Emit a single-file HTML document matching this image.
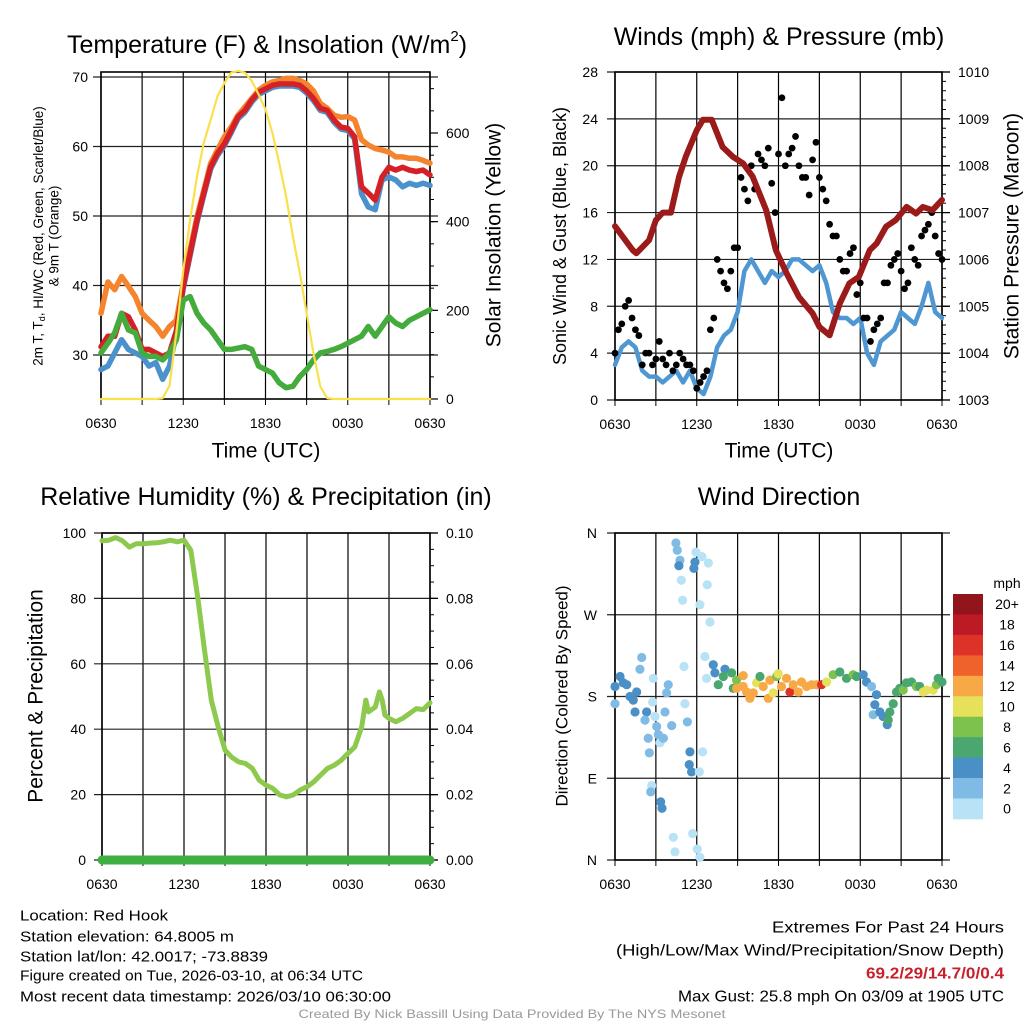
<!DOCTYPE html>
<html>
<head>
<meta charset="utf-8">
<style>
html,body{margin:0;padding:0;background:#fff;}
svg{display:block;font-family:"Liberation Sans",Arial,sans-serif;}
</style>
</head>
<body>
<svg id="root" width="1024" height="1024" viewBox="0 0 1024 1024" xmlns="http://www.w3.org/2000/svg"></svg>
<script>
// ---------------- DATA ----------------
const hourTicks = ["0630","1230","1830","0030","0630"];
const tempRed = [31.2,32.7,32.7,36,35.5,33.6,30.8,30.8,30.3,29.8,30.3,33.5,39.9,44.6,49.4,53.3,57.1,59,60.4,62.3,64.3,65.2,66.7,67.8,68.3,68.8,69,69,69,68.8,68,66.9,65.5,65.2,63.8,62.8,62.6,61.4,54.2,53.3,52.3,55.6,57,56.6,57,56.6,56.4,56.6,55.9];
const tempOrange = [36,40.5,39.4,41.3,39.9,38.4,36,35,34.1,32.7,34.1,35,40.3,45.1,49.9,53.7,57.6,59.5,61.4,62.8,64.5,65.7,66.9,68.1,68.8,69.3,69.5,69.8,69.8,69.5,69,68,66.2,65.5,64.5,64.2,64.3,63.8,61,60.2,59.7,59.5,59.2,58.5,58.5,58.3,58.3,58,57.6];
const tempBlue = [27.9,28.4,30.3,32.2,30.8,30.3,29.8,28.4,28.9,26.5,28.4,33.2,39.6,44.3,49.1,53,56.8,58.7,60.1,62,64,64.9,66.4,67.5,68,68.5,68.7,68.7,68.7,68.5,67.7,66.6,65.2,64.9,63.5,62.5,62.3,61.1,53.2,51.3,50.9,55.2,55.6,55.2,54.2,54.7,54.4,54.7,54.4];
const dewGreen = [30.3,31.7,33.2,36,33.6,33.2,30.3,29.8,29.8,29.3,30.3,32.2,37.9,38.4,36,34.6,33.6,32.2,30.8,30.8,31,31.2,30.8,28.4,27.9,27.4,26,25.3,25.5,26.9,27.9,29.3,30.3,30.5,30.8,31.2,31.7,32.2,32.7,34.1,32.7,34.1,35.5,34.6,34.1,35,35.5,36,36.5];
const solar = [0,0,0,0,0,0,0,0,0,2,30,150,291,404,502,578,630,683,713,736,740,736,717,687,653,600,532,457,367,284,194,103,28,2,0,0,0,0,0,0,0,0,0,0,0,0,0,0,0];
const tempTicks = [30,40,50,60,70];
const solarTicks = [0,200,400,600];
const windSpeed = [3,4.5,5,4.5,2.5,2,2,1.5,2,2.5,1.5,2.5,1,0.5,2,4.5,5.5,6,7.5,11,12,11,10,11,10.5,11,12,12,11.5,11,11.5,10,7.5,7,7,6.5,7,4,3,5,5.5,6,7.5,7,6.5,8,10,7.5,7];
const gustA = [4,6.5,8.5,6,3,4,3.5,3.5,4,3,3.5,3,1,2,6,12,10,11,13,18,20,21,20,18.5,21,20,21.5,20,19,20.5,19,17,14,12,11,13,10,7,6,7,10,12,11,10,12,14,15,14,12];
const gustB = [6,8,7,5.5,4,3,5,3,2.5,4,3,2.5,1.5,2.5,7,11,9.5,13,19,17,18,20.5,21.5,16,25.8,21,22.5,19,17.5,22,18,15,14,11,12.5,9,7,5,6.5,10,11.5,12.5,9.5,13,11.5,14.5,16,12.5];
const pressTimes = [0,1.3,1.56,2.5,3,3.5,4.1,4.7,5.2,6,6.45,7.1,7.9,8.65,9.4,10.1,11.1,11.8,12.6,13.5,14.5,15,15.75,16.5,17.2,17.9,18.7,19.2,19.9,20.6,21.4,22.1,22.6,23.3,24];
const pressVals = [1006.71,1006.2,1006.13,1006.41,1006.84,1007.0,1007.0,1007.76,1008.2,1008.76,1008.98,1008.98,1008.4,1008.19,1008.05,1007.77,1007.05,1006.2,1005.7,1005.2,1004.85,1004.56,1004.38,1005.06,1005.49,1005.63,1006.2,1006.34,1006.7,1006.84,1007.12,1006.98,1007.12,1007.05,1007.27];
const windTicks = [0,4,8,12,16,20,24,28];
const pressTicks = [1003,1004,1005,1006,1007,1008,1009,1010];
const rhTimes = [0,0.5,1,1.5,2,2.5,3,3.5,4,4.5,5,5.5,6,6.5,7,7.5,8,8.5,9,9.5,10,10.5,11,11.5,12,12.5,13,13.5,14,14.5,15,15.5,16,16.5,17,17.5,18,18.5,19,19.3,19.5,20,20.3,20.5,20.7,21,21.5,22,22.5,23,23.5,24];
const rhVals = [97.6,97.8,98.6,97.6,95.7,96.7,96.7,96.9,97,97.3,97.8,97.3,97.8,94.7,80.4,64.2,48.9,40.7,33.6,31.4,30,29.5,28,24.4,22.9,21.9,19.9,19.3,19.9,21.4,22.4,23.9,26,28,29,30.5,32.6,34.6,40.7,48.9,45.3,46.8,51.4,48.9,44.3,43.3,42.3,43.3,44.8,46.3,46,48.1];
const precipTimes = [0,24];
const precipVals = [0,0];
const rhTicks = [0,20,40,60,80,100];
const precipTicks = ["0.00","0.02","0.04","0.06","0.08","0.10"];
const dirTimes = [0,0.37,0.61,0.86,1.1,1.34,1.59,1.47,1.96,1.83,2.32,2.2,2.44,2.52,2.81,2.76,2.93,3.06,3.18,3.3,3.55,3.67,3.79,3.91,4.16,4.47,4.57,4.77,4.69,4.87,4.96,5.06,5.13,5.31,5.5,5.45,5.62,2.69,2.62,3.35,3.45,4.28,4.4,5.7,6.04,6.23,5.87,5.79,5.94,6.38,6.85,6.77,6.23,6.97,6.6,6.72,6.19,6.43,0,
 7.21,7.33,8.07,7.58,7.95,8.56,8.68,8.92,9.41,8.92,9.41,9.66,9.9,10.15,10.39,10.64,10.88,11.25,11.37,11.61,11.86,11.98,12.22,12.59,12.84,13.08,13.45,13.69,14.06,14.43,14.79,15.16,15.53,16.01,16.5,16.99,17.48,17.73,18.22,18.46,18.83,19.19,19.07,18.95,19.44,19.68,19.98,20.05,20.17,20.42,20.66,20.9,21.15,21.39,21.76,22.13,22.37,22.62,22.86,23.35,23.59,23.72,24];
const dirDegrees = [191,202,195,193,180,176,185,163,223,210,163,154,134,118,200,174,158,147,138,129,134,163,184,193,148,349,341,330,324,308,286,213,172,152,119,105,97,82,75,64,57,25,9,29,12,3,328,321,339,334,327,303,281,262,224,200,97,119,172,
 215,206,210,193,202,206,189,198,203,189,191,185,178,184,195,202,191,178,198,184,202,205,191,200,185,193,185,196,191,193,193,193,196,204,207,200,204,202,204,196,191,182,171,160,163,158,149,154,163,172,185,189,187,195,196,191,191,185,187,187,193,200,196];
const dirSpeeds = [4,4,4,4,4,4,4,4,2,2,4,2,2,2,1,1,1,2,2,0,2,2,2,2,2,2,2,2,4,0,0,0,0,2,4,4,4,0,2,4,4,0,0,0,0,0,4,4,0,0,0,0,0,0,0,0,0,0,2,
 4,4,4,6,6,6,6,8,12,12,12,12,12,12,10,6,12,12,12,10,8,10,12,12,16,12,12,12,12,12,12,16,10,8,6,6,8,6,4,4,2,4,4,2,4,4,4,6,6,6,6,6,8,6,6,8,6,10,10,10,8,6,6];
const dirLabels = ["N","E","S","W","N"];
const speedLabels = ["20+","18","16","14","12","10","8","6","4","2","0"];
const speedColors = ["#92151b","#bc1b26","#dc3227","#f0622b","#f6a945","#e7e05a","#7dc24c","#49a76f","#4a8fc6","#80bbe5","#b8e3f7"];

// ---------------- HELPERS ----------------
const NS = "http://www.w3.org/2000/svg";
const root = document.getElementById("root");
function mk(tag, parent){ const e = document.createElementNS(NS, tag); parent.appendChild(e); return e; }
function lin(d0,d1,r0,r1){ return v => r0 + (v-d0)*(r1-r0)/(d1-d0); }
function txt(parent, x, y, s, size, anchor){
  const t = mk("text", parent);
  t.setAttribute("x", x); t.setAttribute("y", y);
  t.setAttribute("font-size", size); t.setAttribute("text-anchor", anchor||"middle");
  t.setAttribute("dominant-baseline","central");
  t.textContent = s; return t;
}
function line(parent,x1,y1,x2,y2,stroke,w){
  const l = mk("line", parent);
  l.setAttribute("x1",x1); l.setAttribute("y1",y1); l.setAttribute("x2",x2); l.setAttribute("y2",y2);
  l.setAttribute("stroke",stroke); l.setAttribute("stroke-width",w); return l;
}
function pathFrom(xs, ys, sx, sy){
  let d = "";
  for (let i=0;i<xs.length;i++){ d += (i?"L":"M") + sx(xs[i]).toFixed(1) + "," + sy(ys[i]).toFixed(1); }
  return d;
}
const halfHours = tempRed.map((_,i)=>i*0.5);
const quarterHours = gustB.map((_,i)=>i*0.5+0.25);

function frame(g, x0,x1,y0,y1, sx, yTicks, syL, leftLabels, labelX){
  for (let h=0; h<=24; h+=3){
    const gl = line(g, sx(h), y0, sx(h), y1, "#000", 1.2);
    
    
    const tk = line(g, sx(h), y1, sx(h), y1+6, "#000", 1);
    
    
  }
  yTicks.forEach((v,i)=>{
    const gl = line(g, x0-8, syL(v), x1+8, syL(v), "#222", 1.2);
    
    
    const lb = txt(g, labelX, syL(v), leftLabels[i], 14, "end");
    
    
  });
  hourTicks.forEach((s,i)=>{
    const lb = txt(g, sx(i*6), y1+24, s, 14, "middle");
    
    
  });
  const bd = mk("rect", g);
  bd.setAttribute("x",x0); bd.setAttribute("y",y0); bd.setAttribute("width",x1-x0); bd.setAttribute("height",y1-y0);
  bd.setAttribute("fill","none"); bd.setAttribute("stroke","#000"); bd.setAttribute("stroke-width",1.6);
  
  
}
function rightAxis(g, x1, ticks, sy, labels, minorStep, minorMin, minorMax){
  for (let v=minorMin; v<=minorMax+1e-9; v+=minorStep){
    const m = line(g, x1, sy(v), x1+4, sy(v), "#000", 1);
    
    
  }
  ticks.forEach((v,i)=>{
    const t = line(g, x1, sy(v), x1+8, sy(v), "#000", 1.2);
    
    
    const lb = txt(g, x1+16, sy(v), labels[i], 14, "start");
    
    
  });
}
function series(g, xs, ys, sx, sy, color, w, name){
  const p = mk("path", g);
  p.setAttribute("d", pathFrom(xs, ys, sx, sy));
  p.setAttribute("fill","none"); p.setAttribute("stroke",color); p.setAttribute("stroke-width",w);
  p.setAttribute("stroke-linejoin","round"); p.setAttribute("stroke-linecap","round");
  
  
  return p;
}
function rotText(g, x, y, s, size){
  const t = txt(g, 0, 0, s, size, "middle");
  t.setAttribute("transform", "translate("+x+","+y+") rotate(-90)");
  return t;
}

// ---------------- PANEL 1 ----------------
{
  const g = mk("g", root);
  
  
  const x0=101,x1=430,y0=72,y1=399;
  const sx = lin(0,24,x0,x1);
  const sy = lin(30,70,355,77);
  const sr = lin(0,600,399,133);
  frame(g,x0,x1,y0,y1,sx,tempTicks,sy,tempTicks.map(String),88);
  rightAxis(g,x1,solarTicks,sr,solarTicks.map(String),50,0,700);
  series(g, halfHours, tempOrange, sx, sy, "#f4842e", 5.5, "series-9m-temperature");
  series(g, halfHours, tempBlue, sx, sy, "#4b92cd", 5.5, "series-heat-index-wind-chill");
  series(g, halfHours, tempRed, sx, sy, "#d52126", 5.5, "series-2m-temperature");
  series(g, halfHours, dewGreen, sx, sy, "#44ab3d", 5.5, "series-dewpoint");
  series(g, halfHours, solar, sx, sr, "#fbe04a", 2.2, "series-solar-insolation");
  const t = txt(g, 267, 45, "", 25, "middle");
  t.innerHTML = 'Temperature (F) &amp; Insolation (W/m<tspan dy="-9" font-size="15">2</tspan><tspan dy="9">)</tspan>';
  
  
  const a = rotText(g, 38, 236, "", 13.5);
  a.innerHTML = '2m T, T<tspan dy="4" font-size="9">d</tspan><tspan dy="-4">, HI/WC (Red, Green, Scarlet/Blue)</tspan>';
  
  
  const a2 = rotText(g, 54, 236, "& 9m T (Orange)", 13.5);
  
  
  const r = rotText(g, 494, 235, "Solar Insolation (Yellow)", 21);
  
  
  const xt = txt(g, 266, 451, "Time (UTC)", 21, "middle");
  
  
}

// ---------------- PANEL 2 ----------------
{
  const g = mk("g", root);
  
  
  const x0=615,x1=942,y0=72,y1=400;
  const sx = lin(0,24,x0,x1);
  const sy = lin(0,28,y1,y0);
  const sp = lin(1003,1010,y1,y0);
  frame(g,x0,x1,y0,y1,sx,windTicks,sy,windTicks.map(String),598);
  rightAxis(g,x1,pressTicks,sp,pressTicks.map(String),0.2,1003,1010);
  series(g, halfHours, windSpeed, sx, sy, "#4f97d3", 4.5, "series-sonic-wind");
  const dots = mk("g", g);
  
  
  [[halfHours,gustA],[quarterHours,gustB]].forEach(([ts,vs])=>{
    vs.forEach((v,i)=>{
      const c = mk("circle", dots);
      c.setAttribute("cx", sx(ts[i])); c.setAttribute("cy", sy(v)); c.setAttribute("r", 3.4);
      c.setAttribute("fill","#000");
      
      
    });
  });
  series(g, pressTimes, pressVals, sx, sp, "#9b1a1a", 6, "series-station-pressure");
  const t = txt(g, 779, 37, "Winds (mph) & Pressure (mb)", 25, "middle");
  
  
  const a = rotText(g, 560, 236, "Sonic Wind & Gust (Blue, Black)", 18);
  
  
  const r = rotText(g, 1012, 236, "Station Pressure (Maroon)", 21);
  
  
  const xt = txt(g, 779, 451, "Time (UTC)", 21, "middle");
  
  
}

// ---------------- PANEL 3 ----------------
{
  const g = mk("g", root);
  
  
  const x0=102,x1=430,y0=533,y1=860;
  const sx = lin(0,24,x0,x1);
  const sy = lin(0,100,y1,y0);
  const sp = lin(0,0.1,y1,y0);
  frame(g,x0,x1,y0,y1,sx,rhTicks,sy,rhTicks.map(String),86);
  rightAxis(g,x1,precipTicks.map(Number),sp,precipTicks,0.005,0,0.1);
  series(g, rhTimes, rhVals, sx, sy, "#8dc94d", 5, "series-relative-humidity");
  series(g, precipTimes, precipVals, sx, sp, "#3faf41", 9, "series-precipitation");
  const t = txt(g, 266, 497, "Relative Humidity (%) & Precipitation (in)", 25, "middle");
  
  
  const a = rotText(g, 36, 696, "Percent & Precipitation", 21);
  
  
}

// ---------------- PANEL 4 ----------------
{
  const g = mk("g", root);
  
  
  const x0=615,x1=942,y0=533,y1=860;
  const sx = lin(0,24,x0,x1);
  const sy = lin(0,360,y1,y0);
  const dTicks = [0,90,180,270,360];
  frame(g,x0,x1,y0,y1,sx,dTicks,sy,dirLabels,597);
  function speedColor(s){ const idx = Math.min(10, Math.floor(s/2)); return speedColors[10-idx]; }
  const dots = mk("g", g);
  
  
  dirTimes.forEach((t,i)=>{
    const c = mk("circle", dots);
    c.setAttribute("cx", sx(t)); c.setAttribute("cy", sy(dirDegrees[i])); c.setAttribute("r", 4.6);
    c.setAttribute("fill", speedColor(dirSpeeds[i]));
    
    
  });
  const t = txt(g, 779, 497, "Wind Direction", 25, "middle");
  
  
  const a = rotText(g, 562, 696, "Direction (Colored By Speed)", 17);
  
  
  const cb = mk("g", root);
  
  
  const cbTop = 594, boxH = 20.45;
  speedColors.forEach((col,i)=>{
    const r = mk("rect", cb);
    r.setAttribute("x",953); r.setAttribute("y",cbTop+i*boxH); r.setAttribute("width",30); r.setAttribute("height",boxH+0.4);
    r.setAttribute("fill",col);
    
    
    const l = txt(cb, 1007, cbTop+i*boxH+boxH/2, speedLabels[i], 14, "middle");
    
    
  });
  const u = txt(cb, 1007, 583, "mph", 14, "middle");
  
  
}

// ---------------- FOOTER ----------------
{
  const g = mk("g", root);
  
  
  const left = [
    ["Location: Red Hook", 916, 148],
    ["Station elevation: 64.8005 m", 937, 214],
    ["Station lat/lon: 42.0017; -73.8839", 957, 248],
    ["Figure created on Tue, 2026-03-10, at 06:34 UTC", 976, 343],
    ["Most recent data timestamp: 2026/03/10 06:30:00", 997, 371]
  ];
  left.forEach(([s,y,w])=>{
    const t = txt(g, 20, y, s, 15, "start");
    t.setAttribute("textLength", w); t.setAttribute("lengthAdjust","spacingAndGlyphs");
    
    
  });
  const right = [
    ["Extremes For Past 24 Hours", 928, 232, "#000"],
    ["(High/Low/Max Wind/Precipitation/Snow Depth)", 951, 388, "#000"],
    ["69.2/29/14.7/0/0.4", 974, 138, "#c8202a"],
    ["Max Gust: 25.8 mph On 03/09 at 1905 UTC", 997, 326, "#000"]
  ];
  right.forEach(([s,y,w,c],i)=>{
    const t = txt(g, 1004, y, s, 16, "end");
    t.setAttribute("textLength", w); t.setAttribute("lengthAdjust","spacingAndGlyphs");
    t.setAttribute("fill", c);
    if (i===2) t.setAttribute("font-weight","bold");
    
    
  });
  const f = txt(g, 512, 1014, "Created By Nick Bassill Using Data Provided By The NYS Mesonet", 12, "middle");
  f.setAttribute("fill","#999");
  f.setAttribute("textLength", 427); f.setAttribute("lengthAdjust","spacingAndGlyphs");
  
  
}
</script>
</body>
</html>
